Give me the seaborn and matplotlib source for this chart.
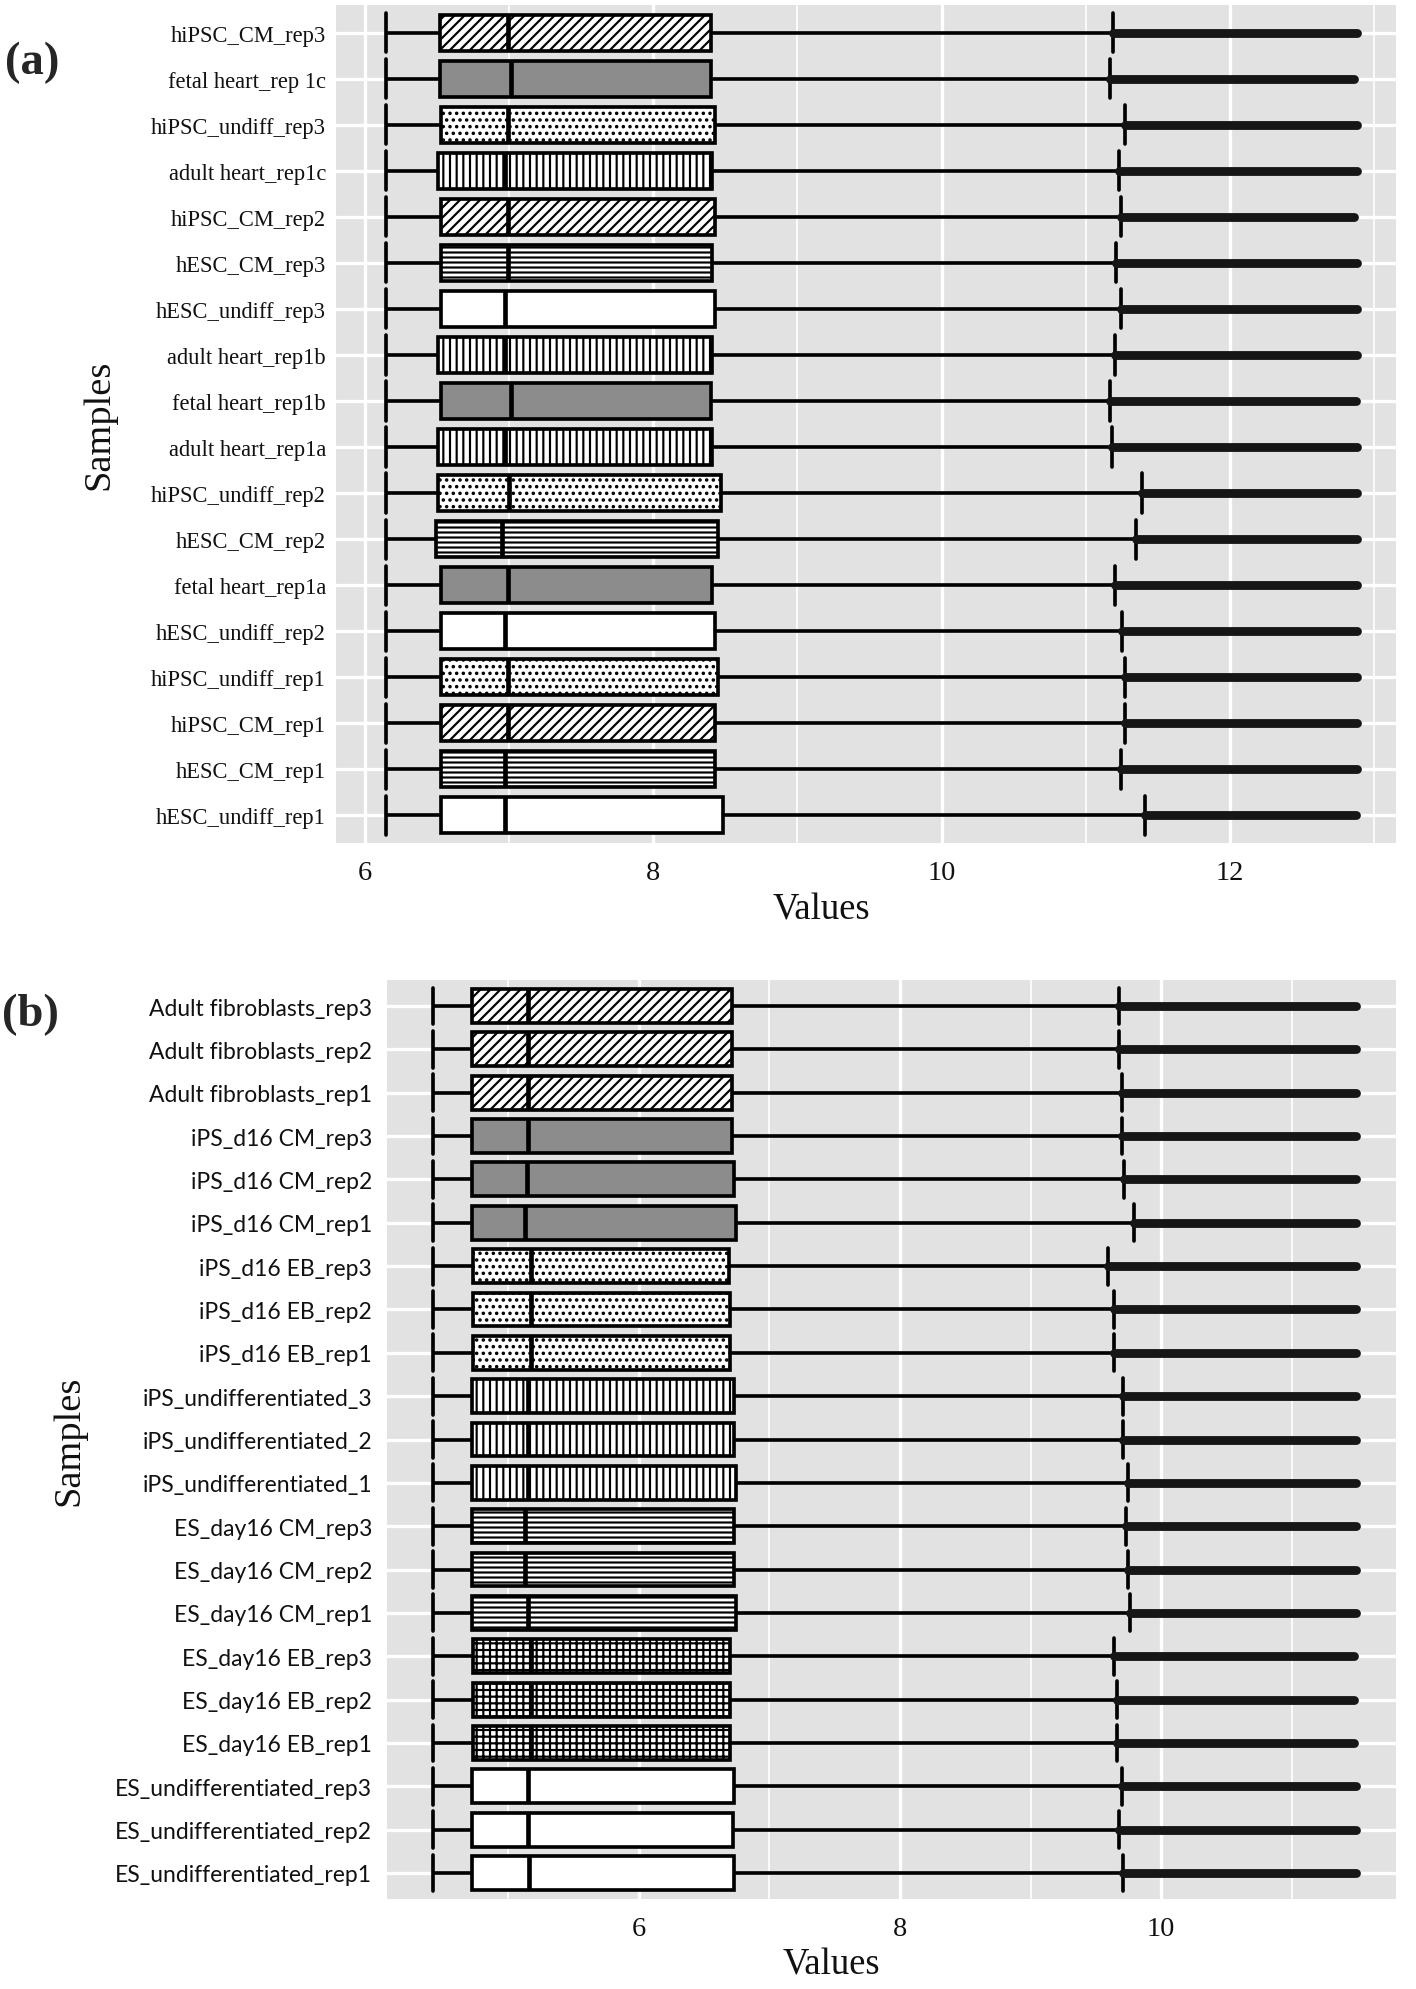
import numpy as np
import pandas as pd
import matplotlib
matplotlib.use("Agg")
import matplotlib.pyplot as plt
import seaborn as sns
from matplotlib.ticker import MultipleLocator

# ---------------- Panel (a) data (top row first) ----------------
samples_a = ["hiPSC_CM_rep3", "fetal heart_rep 1c", "hiPSC_undiff_rep3", "adult heart_rep1c",
             "hiPSC_CM_rep2", "hESC_CM_rep3", "hESC_undiff_rep3", "adult heart_rep1b",
             "fetal heart_rep1b", "adult heart_rep1a", "hiPSC_undiff_rep2", "hESC_CM_rep2",
             "fetal heart_rep1a", "hESC_undiff_rep2", "hiPSC_undiff_rep1", "hiPSC_CM_rep1",
             "hESC_CM_rep1", "hESC_undiff_rep1"]
group_a = ["CM", "fetal", "iundiff", "adult", "CM", "hCM", "undiff", "adult", "fetal", "adult",
           "iundiff", "hCM", "fetal", "undiff", "iundiff", "CM", "hCM", "undiff"]
lo_a = [6.15] * 18
q1_a = [6.52, 6.52, 6.53, 6.51, 6.53, 6.53, 6.53, 6.51, 6.53, 6.51, 6.51, 6.49, 6.53, 6.53, 6.53, 6.53, 6.53, 6.53]
med_a = [6.99, 7.01, 6.99, 6.97, 6.99, 6.99, 6.97, 6.97, 7.01, 6.97, 7.00, 6.95, 6.99, 6.97, 6.99, 6.99, 6.97, 6.97]
q3_a = [8.40, 8.40, 8.43, 8.41, 8.43, 8.41, 8.43, 8.41, 8.40, 8.41, 8.47, 8.45, 8.41, 8.43, 8.45, 8.43, 8.43, 8.48]
hi_a = [11.19, 11.17, 11.27, 11.23, 11.24, 11.21, 11.24, 11.20, 11.17, 11.18, 11.39, 11.35, 11.20, 11.25, 11.27, 11.27, 11.24, 11.41]
max_a = [12.88, 12.86, 12.88, 12.88, 12.86, 12.88, 12.88, 12.88, 12.87, 12.88, 12.88, 12.88, 12.88, 12.88, 12.88, 12.88, 12.88, 12.87]

# ---------------- Panel (b) data (top row first) ----------------
samples_b = ["Adult fibroblasts_rep3", "Adult fibroblasts_rep2", "Adult fibroblasts_rep1",
             "iPS_d16 CM_rep3", "iPS_d16 CM_rep2", "iPS_d16 CM_rep1",
             "iPS_d16 EB_rep3", "iPS_d16 EB_rep2", "iPS_d16 EB_rep1",
             "iPS_undifferentiated_3", "iPS_undifferentiated_2", "iPS_undifferentiated_1",
             "ES_day16 CM_rep3", "ES_day16 CM_rep2", "ES_day16 CM_rep1",
             "ES_day16 EB_rep3", "ES_day16 EB_rep2", "ES_day16 EB_rep1",
             "ES_undifferentiated_rep3", "ES_undifferentiated_rep2", "ES_undifferentiated_rep1"]
group_b = ["CM", "CM", "CM", "fetal", "fetal", "fetal", "iundiff", "iundiff", "iundiff",
           "adult", "adult", "adult", "hCM", "hCM", "hCM", "grid", "grid", "grid",
           "undiff", "undiff", "undiff"]
lo_b = [4.42] * 21
q1_b = [4.72, 4.72, 4.72, 4.72, 4.72, 4.72, 4.73, 4.73, 4.73, 4.72, 4.72, 4.72, 4.72, 4.72, 4.72,
        4.73, 4.73, 4.73, 4.72, 4.72, 4.72]
med_b = [5.15, 5.15, 5.15, 5.15, 5.14, 5.13, 5.17, 5.17, 5.17, 5.15, 5.15, 5.15, 5.13, 5.13, 5.15,
         5.17, 5.17, 5.17, 5.15, 5.15, 5.16]
q3_b = [6.71, 6.71, 6.71, 6.71, 6.73, 6.74, 6.69, 6.70, 6.70, 6.73, 6.73, 6.74, 6.73, 6.73, 6.74,
        6.70, 6.70, 6.70, 6.73, 6.72, 6.73]
hi_b = [9.68, 9.68, 9.70, 9.70, 9.72, 9.79, 9.59, 9.64, 9.64, 9.71, 9.71, 9.75, 9.73, 9.75, 9.76,
        9.64, 9.66, 9.66, 9.70, 9.68, 9.71]
max_b = [11.49, 11.49, 11.49, 11.49, 11.49, 11.49, 11.49, 11.49, 11.49, 11.49, 11.49, 11.49,
         11.49, 11.49, 11.49, 11.48, 11.48, 11.48, 11.49, 11.49, 11.49]

# group -> (fill colour, hatch)
styles = {
    "CM": ("white", "////"),
    "fetal": ("#8c8c8c", ""),
    "iundiff": ("white", "..."),
    "adult": ("white", "|||"),
    "hCM": ("white", "----"),
    "undiff": ("white", ""),
    "grid": ("white", "+++"),
}

SERIF = "Liberation Serif"
SANS = "Lato"

sns.set_theme(style="white")
plt.rcParams["font.family"] = [SERIF, "DejaVu Serif"]
plt.rcParams["hatch.linewidth"] = 1.3
plt.rcParams["hatch.color"] = "black"

DPI = 120
W, H = 1416, 1990
fig = plt.figure(figsize=(W / DPI, H / DPI), dpi=DPI)


def ax_rect(l, t, r, b):
    return [l / W, 1 - b / H, (r - l) / W, (b - t) / H]


def panel(ax, samples, groups, lo, q1, med, q3, hi, mx, xlim, tickfont, tickfs, ypad):
    n = len(samples)
    df = pd.DataFrame({
        "Samples": np.repeat(samples, 5),
        "Values": np.column_stack([lo, q1, med, q3, hi]).ravel(),
    })
    ax.set_facecolor("#e2e2e2")
    ax.set_axisbelow(True)
    sns.boxplot(data=df, x="Values", y="Samples", order=samples, orient="h",
                whis=(0, 100), showfliers=False, width=0.78, color="white",
                linecolor="black", linewidth=2.2, medianprops={"linewidth": 2.8},
                capwidths=0.85, ax=ax)
    for patch, g in zip(ax.patches, groups):
        fc, hatch = styles[g]
        patch.set_facecolor(fc)
        patch.set_hatch(hatch)
        patch.set_edgecolor("black")
    lc = ax.hlines(np.arange(n), hi, mx, colors="#161616", linewidth=5.3, zorder=3)
    lc.set_capstyle("round")

    ax.set_xlim(*xlim)
    ax.set_ylim(n - 1 + 0.6, -0.6)
    ax.xaxis.set_major_locator(MultipleLocator(2))
    ax.xaxis.set_minor_locator(MultipleLocator(1))
    ax.grid(which="major", axis="both", color="white", linewidth=2.0)
    ax.grid(which="minor", axis="x", color="white", linewidth=1.0)
    for s in ax.spines.values():
        s.set_visible(False)
    ax.tick_params(axis="x", which="major", length=3, width=1.6, color="#333333",
                   pad=7, labelsize=17, labelcolor="#111111")
    ax.tick_params(axis="x", which="minor", length=0)
    ax.tick_params(axis="y", which="major", length=3, width=1.8, color="#333333",
                   pad=ypad, labelsize=tickfs, labelcolor="#111111")
    for lab in ax.get_yticklabels():
        lab.set_fontfamily(tickfont)
    for lab in ax.get_xticklabels():
        lab.set_fontfamily(SERIF)
    ax.set_xlabel("Values", fontsize=22, fontfamily=SERIF, color="#111111")
    ax.set_ylabel("Samples", fontsize=23, fontfamily=SERIF, color="#111111")


ax1 = fig.add_axes(ax_rect(336, 6, 1396, 844))
panel(ax1, samples_a, group_a, lo_a, q1_a, med_a, q3_a, hi_a, max_a, (5.8, 13.15), SERIF, 13.5, 3)
ax1.xaxis.set_label_coords(0.458, -0.058)
ax1.yaxis.set_label_coords(-0.207, 0.5)

ax2 = fig.add_axes(ax_rect(387, 981, 1396, 1900))
panel(ax2, samples_b, group_b, lo_b, q1_b, med_b, q3_b, hi_b, max_b, (4.07, 11.8), SANS, 13.7, 6)
ax2.xaxis.set_label_coords(0.44, -0.052)
ax2.yaxis.set_label_coords(-0.298, 0.5)

fig.text(32 / W, 1 - 63 / H, "(a)", fontsize=28, fontweight="bold", fontfamily=SERIF,
         ha="center", va="center")
fig.text(30 / W, 1 - 1015 / H, "(b)", fontsize=28, fontweight="bold", fontfamily=SERIF,
         ha="center", va="center")

fig.savefig("out.png", dpi=DPI)
